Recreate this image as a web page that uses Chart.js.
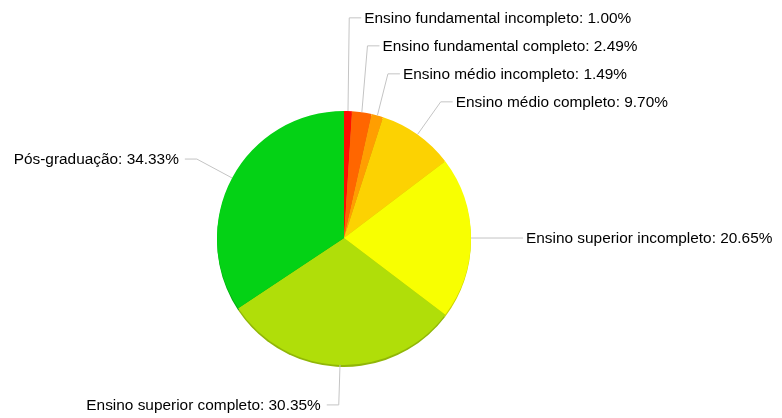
<!DOCTYPE html>
<html>
<head>
<meta charset="utf-8">
<script src="https://cdn.jsdelivr.net/npm/chart.js@4.4.1/dist/chart.umd.min.js"></script>
<style>
  html, body { margin: 0; padding: 0; background: #fff; }
  #wrap { width: 782px; height: 418px; }
</style>
</head>
<body>
<div id="wrap"><canvas id="pieChart"></canvas></div>
<script>
const categories = [
  'Ensino fundamental incompleto',
  'Ensino fundamental completo',
  'Ensino médio incompleto',
  'Ensino médio completo',
  'Ensino superior incompleto',
  'Ensino superior completo',
  'Pós-graduação'
];
const percentages = [1.00, 2.49, 1.49, 9.70, 20.65, 30.35, 34.33];
const sliceColors = ['#FF0F00', '#FF6600', '#FF9E01', '#FCD202', '#F8FF01', '#B0DE09', '#04D215'];

const FONT = '15.4px "Liberation Sans", Arial, sans-serif';

function darken(hex, f) {
  const n = parseInt(hex.slice(1), 16);
  const r = Math.round(((n >> 16) & 255) * f);
  const g = Math.round(((n >> 8) & 255) * f);
  const b = Math.round((n & 255) * f);
  return `rgb(${r},${g},${b})`;
}

// darker copy of each slice a bit lower, gives the thin rim at the bottom
const rimPlugin = {
  id: 'rim',
  beforeDatasetsDraw(chart) {
    const ctx = chart.ctx;
    chart.getDatasetMeta(0).data.forEach((arc, i) => {
      ctx.save();
      ctx.beginPath();
      ctx.moveTo(arc.x, arc.y + 2);
      ctx.arc(arc.x, arc.y + 2, arc.outerRadius, arc.startAngle, arc.endAngle);
      ctx.closePath();
      ctx.fillStyle = darken(sliceColors[i], 0.82);
      ctx.fill();
      ctx.restore();
    });
  }
};

// labels with leader lines, stacked so they do not overlap
const labelPlugin = {
  id: 'pieLabels',
  afterDatasetsDraw(chart) {
    const ctx = chart.ctx;
    const arcs = chart.getDatasetMeta(0).data;
    const gap = 28;
    const items = arcs.map((arc, i) => {
      const mid = (arc.startAngle + arc.endAngle) / 2;
      const r = arc.outerRadius;
      const cos = Math.cos(mid), sin = Math.sin(mid);
      return {
        i,
        cx: arc.x, cy: arc.y,
        sx: arc.x + r * cos, sy: arc.y + r * sin,
        ex: arc.x + (r + 40) * cos, ey: arc.y + (r + 40) * sin,
        right: cos >= 0
      };
    });

    [true, false].forEach(side => {
      const group = items.filter(it => it.right === side);
      const top = group.filter(it => it.ey < it.cy).sort((a, b) => b.ey - a.ey);
      for (let k = 1; k < top.length; k++) {
        top[k].ey = Math.min(top[k].ey, top[k - 1].ey - gap);
      }
      const bottom = group.filter(it => it.ey >= it.cy).sort((a, b) => a.ey - b.ey);
      for (let k = 1; k < bottom.length; k++) {
        bottom[k].ey = Math.max(bottom[k].ey, bottom[k - 1].ey + gap);
      }
    });

    ctx.save();
    ctx.font = FONT;
    ctx.textBaseline = 'middle';
    items.forEach(it => {
      const dir = it.right ? 1 : -1;
      const hx = it.ex + dir * 12;
      ctx.strokeStyle = '#c4c4c4';
      ctx.lineWidth = 1;
      ctx.beginPath();
      ctx.moveTo(it.sx, it.sy);
      ctx.lineTo(it.ex, it.ey);
      ctx.lineTo(hx, it.ey);
      ctx.stroke();
      ctx.fillStyle = '#000';
      ctx.textAlign = it.right ? 'left' : 'right';
      const txt = categories[it.i] + ': ' + percentages[it.i].toFixed(2) + '%';
      ctx.fillText(txt, hx + dir * (it.right ? 3 : 6), it.ey + 1);
    });
    ctx.restore();
  }
};

new Chart(document.getElementById('pieChart'), {
  type: 'pie',
  data: {
    labels: categories,
    datasets: [{
      data: percentages,
      backgroundColor: sliceColors,
      borderWidth: 0
    }]
  },
  options: {
    responsive: true,
    maintainAspectRatio: false,
    animation: false,
    layout: { padding: { top: 111, bottom: 53, left: 0, right: 94 } },
    plugins: {
      legend: { display: false },
      tooltip: { enabled: false }
    }
  },
  plugins: [rimPlugin, labelPlugin]
});
</script>
</body>
</html>
